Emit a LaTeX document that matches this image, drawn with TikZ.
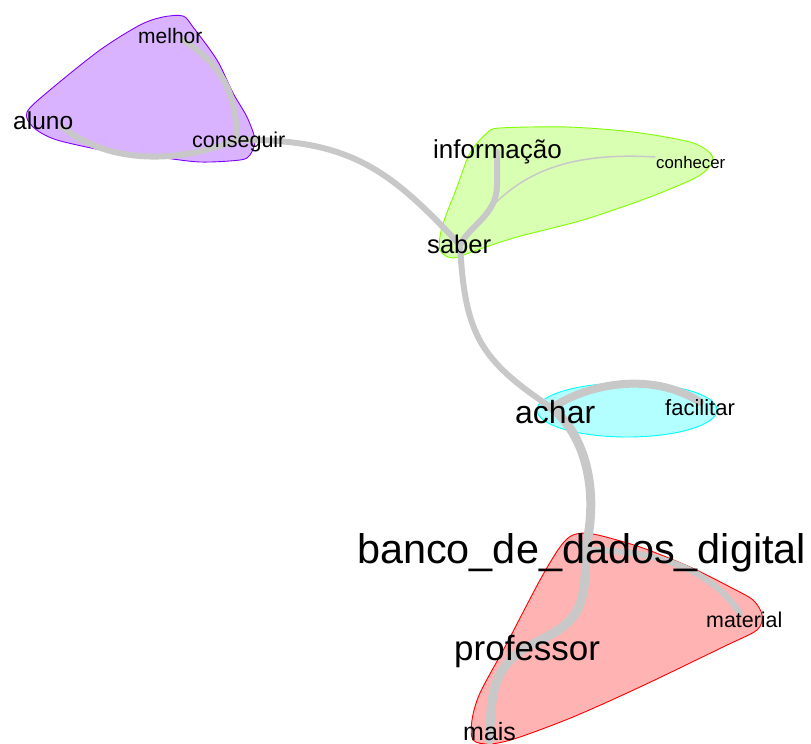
\documentclass[tikz,border=0pt]{standalone}
\usepackage{fontspec}
\setmainfont{Liberation Sans}
\definecolor{edgegray}{RGB}{200,200,200}
\definecolor{redfill}{RGB}{255,179,179}
\definecolor{greenfill}{RGB}{217,255,179}
\definecolor{cyanfill}{RGB}{179,255,255}
\definecolor{purplefill}{RGB}{217,179,255}
\definecolor{redline}{RGB}{255,0,0}
\definecolor{greenline}{RGB}{128,255,0}
\definecolor{cyanline}{RGB}{0,255,255}
\definecolor{purpleline}{RGB}{128,0,255}
\tikzset{
  lbl/.style={inner sep=0pt, anchor=base west, text=black},
  hull/.style={line width=0.9pt},
  edge/.style={draw=edgegray, line width=#1, line cap=round, line join=round},
}
\newcommand{\fs}[1]{\fontsize{#1}{#1}\selectfont}
\begin{document}
\begin{tikzpicture}[x=1pt,y=-1pt]
\useasboundingbox (0,0) rectangle (811,744);
% hulls
\draw[hull, draw=purpleline, fill=purplefill] plot[smooth cycle, tension=0.5] coordinates {
 (163,17) (183,16) (193,27) (217,60) (233,93) (247,117) (255,140) (250,155) (240,160)
 (200,162) (157,157) (117,153) (57,140) (33,127) (27,112) (50,90) (100,50) (140,25)};
\draw[hull, draw=greenline, fill=greenfill] plot[smooth cycle, tension=0.5] coordinates {
 (487,133) (500,128) (567,127) (633,132) (690,142) (710,153) (712,163) (697,177)
 (650,197) (583,220) (517,237) (477,250) (453,258) (440,250) (442,227) (457,187) (470,153)};
\draw[hull, draw=cyanline, fill=cyanfill] (627,410) ellipse [x radius=90, y radius=27];
\draw[hull, draw=redline, fill=redfill] plot[smooth cycle, tension=0.5] coordinates {
 (573,535) (593,534) (640,547) (690,567) (730,587) (753,600) (762,615) (757,630)
 (723,647) (640,687) (573,717) (517,738) (490,744) (473,740) (472,720) (480,693)
 (507,643) (540,580) (560,547)};
% vertex coordinates
\coordinate (v-melhor) at (183,40);
\coordinate (v-aluno) at (62,127);
\coordinate (v-conseguir) at (236,140);
\coordinate (v-informacao) at (497,152);
\coordinate (v-conhecer) at (655,157);
\coordinate (v-saber) at (460,245);
\coordinate (v-achar) at (552,408);
\coordinate (v-facilitar) at (700,402);
\coordinate (v-banco) at (585,550);
\coordinate (v-material) at (740,613);
\coordinate (v-professor) at (525,648);
\coordinate (v-mais) at (490,740);
% edges
\draw[edge=6pt] (v-melhor) .. controls (222,65) and (238,95) .. (v-conseguir);
\draw[edge=6pt] (v-aluno) .. controls (110,165) and (180,163) .. (v-conseguir);
\draw[edge=6pt] (v-conseguir) .. controls (350,138) and (390,170) .. (v-saber);
\draw[edge=6pt] (v-informacao) -- (497,185) .. controls (497,215) and (470,225) .. (v-saber);
\draw[edge=1.5pt] (v-conhecer) .. controls (540,150) and (500,190) .. (v-saber);
\draw[edge=6pt] (v-saber) .. controls (465,335) and (480,360) .. (v-achar);
\draw[edge=8pt] (v-achar) .. controls (585,385) and (650,370) .. (v-facilitar);
\draw[edge=9pt] (v-achar) .. controls (590,440) and (598,500) .. (v-banco);
\draw[edge=9pt] (v-banco) .. controls (588,620) and (570,625) .. (v-professor);
\draw[edge=9pt] (v-professor) .. controls (495,668) and (490,690) .. (v-mais);
\draw[edge=6pt] (v-banco) .. controls (660,550) and (710,570) .. (v-material);
% labels
\node[lbl, font=\fs{21}] (melhor) at (138,43) {melhor};
\node[lbl, font=\fs{24.5}] (aluno) at (13,129) {aluno};
\node[lbl, font=\fs{21.5}] (conseguir) at (192,147) {conseguir};
\node[lbl, font=\fs{26}] (informacao) at (433,158) {informação};
\node[lbl, font=\fs{16.8}] (conhecer) at (656,168) {conhecer};
\node[lbl, font=\fs{25.6}] (saber) at (427,253) {saber};
\node[lbl, font=\fs{32}] (achar) at (515,423) {achar};
\node[lbl, font=\fs{22}] (facilitar) at (665,415) {facilitar};
\node[lbl, font=\fs{41.4}] (banco) at (357,563) {banco\_de\_dados\_digital};
\node[lbl, font=\fs{21.4}] (material) at (706,627) {material};
\node[lbl, font=\fs{35}] (professor) at (454,660) {professor};
\node[lbl, font=\fs{25}] (mais) at (463,740) {mais};
\end{tikzpicture}
\end{document}
